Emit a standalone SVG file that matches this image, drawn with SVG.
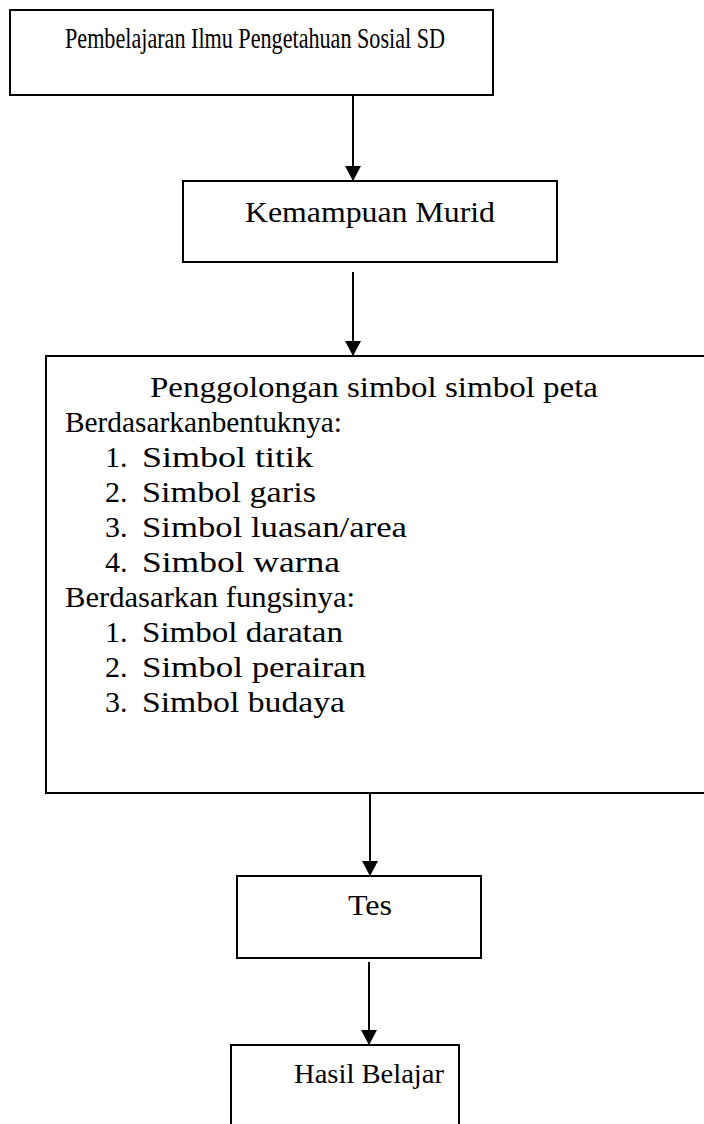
<svg xmlns="http://www.w3.org/2000/svg" width="704" height="1124" viewBox="0 0 704 1124">
<style>
.box{fill:#fff;stroke:#000;stroke-width:2}
.t{font-family:"Liberation Serif","Times New Roman",serif;font-size:30px;fill:#000}
.c{stroke:#000;stroke-width:2;fill:none}
</style>
<defs>
<marker id="ah" markerUnits="userSpaceOnUse" markerWidth="16" markerHeight="16" viewBox="0 0 16 16" refX="15" refY="8" orient="auto">
<path d="M0,0 L15,8 L0,16 Z" fill="#000"/>
</marker>
</defs>
<rect width="704" height="1124" fill="#fff"/>
<g id="connectors">
<line class="c" x1="353" y1="96" x2="353" y2="181" marker-end="url(#ah)"/>
<line class="c" x1="353" y1="272" x2="353" y2="356" marker-end="url(#ah)"/>
<line class="c" x1="370" y1="793" x2="370" y2="876" marker-end="url(#ah)"/>
<line class="c" x1="369" y1="962" x2="369" y2="1045" marker-end="url(#ah)"/>
</g>
<g id="node-pembelajaran">
<rect class="box" x="10" y="10" width="483" height="85"/>
<text class="t" x="65" y="48" textLength="380" lengthAdjust="spacingAndGlyphs">Pembelajaran Ilmu Pengetahuan Sosial SD</text>
</g>
<g id="node-kemampuan">
<rect class="box" x="183" y="181" width="374" height="81"/>
<text class="t" x="245" y="222" textLength="250" lengthAdjust="spacingAndGlyphs">Kemampuan Murid</text>
</g>
<g id="node-penggolongan">
<rect class="box" x="46" y="356" width="700" height="437"/>
<text class="t" x="150" y="397" textLength="448" lengthAdjust="spacingAndGlyphs">Penggolongan simbol simbol peta</text>
<text class="t" x="65" y="432" textLength="277" lengthAdjust="spacingAndGlyphs">Berdasarkanbentuknya:</text>
<text class="t" x="105" y="467">1.</text><text class="t" x="142" y="467" textLength="171" lengthAdjust="spacingAndGlyphs">Simbol titik</text>
<text class="t" x="105" y="502">2.</text><text class="t" x="142" y="502" textLength="174" lengthAdjust="spacingAndGlyphs">Simbol garis</text>
<text class="t" x="105" y="537">3.</text><text class="t" x="142" y="537" textLength="265" lengthAdjust="spacingAndGlyphs">Simbol luasan/area</text>
<text class="t" x="105" y="572">4.</text><text class="t" x="142" y="572" textLength="198" lengthAdjust="spacingAndGlyphs">Simbol warna</text>
<text class="t" x="65" y="607" textLength="290" lengthAdjust="spacingAndGlyphs">Berdasarkan fungsinya:</text>
<text class="t" x="105" y="642">1.</text><text class="t" x="142" y="642" textLength="201" lengthAdjust="spacingAndGlyphs">Simbol daratan</text>
<text class="t" x="105" y="677">2.</text><text class="t" x="142" y="677" textLength="224" lengthAdjust="spacingAndGlyphs">Simbol perairan</text>
<text class="t" x="105" y="712">3.</text><text class="t" x="142" y="712" textLength="203" lengthAdjust="spacingAndGlyphs">Simbol budaya</text>
</g>
<g id="node-tes">
<rect class="box" x="237" y="876" width="244" height="82"/>
<text class="t" x="348" y="915" textLength="44" lengthAdjust="spacingAndGlyphs">Tes</text>
</g>
<g id="node-hasil">
<rect class="box" x="231" y="1045" width="228" height="100"/>
<text class="t" x="294" y="1083" style="font-size:28px" textLength="150" lengthAdjust="spacingAndGlyphs">Hasil Belajar</text>
</g>
</svg>
